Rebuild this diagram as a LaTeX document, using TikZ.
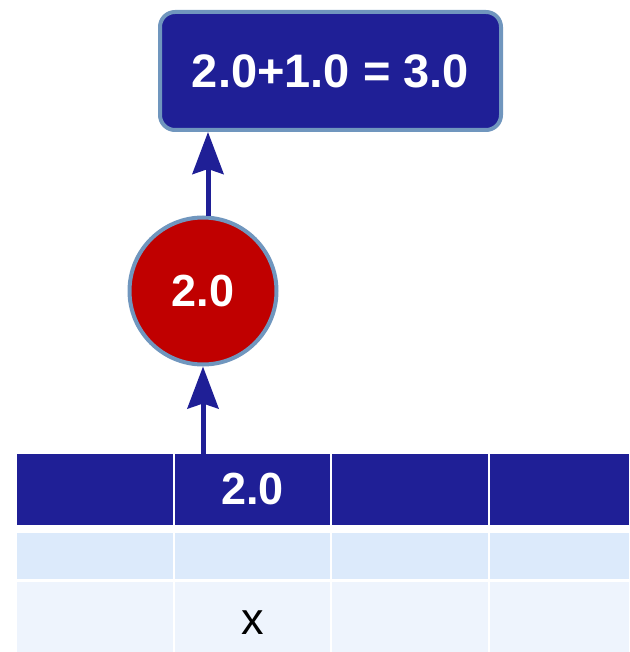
\documentclass[tikz,border=0pt]{standalone}
\usepackage{fontspec}
\setmainfont{Liberation Sans}
\usetikzlibrary{arrows.meta}
\definecolor{navy}{RGB}{31,31,150}
\definecolor{edgeblue}{RGB}{112,150,190}
\definecolor{redfill}{RGB}{192,0,0}
\definecolor{rowa}{RGB}{220,234,251}
\definecolor{rowb}{RGB}{238,244,253}
\tikzset{
  bigtxt/.style={font=\fontsize{47}{50}\selectfont\bfseries, text=white},
  resultbox/.style={draw=edgeblue, line width=4pt, fill=navy, rounded corners=15pt, minimum width=341pt, minimum height=118pt, inner sep=0pt, bigtxt},
  valcircle/.style={circle, draw=edgeblue, line width=4pt, fill=redfill, minimum size=147pt, inner sep=0pt, font=\fontsize{45}{48}\selectfont\bfseries, text=white},
  cell/.style={rectangle, inner sep=0pt, draw=none},
  hcell/.style={cell, fill=navy, minimum height=71pt, font=\fontsize{45}{48}\selectfont\bfseries, text=white},
  acell/.style={cell, fill=rowa, minimum height=46pt},
  bcell/.style={cell, fill=rowb, minimum height=70pt},
  celltxt/.style={font=\fontsize{45}{48}\selectfont, text=black, inner sep=0pt},
  arr/.style={draw=navy, line width=5pt, -{Stealth[length=42pt,width=31pt,inset=5pt]}},
}
\begin{document}
\begin{tikzpicture}[x=1pt,y=-1pt]
\useasboundingbox (0,0) rectangle (629,652);
% table
\node[hcell, minimum width=156pt] (h1) at (95,489.5) {};
\node[hcell, minimum width=155pt] (h2) at (252.5,489.5) {2.0};
\node[hcell, minimum width=156pt] (h3) at (410,489.5) {};
\node[hcell, minimum width=139pt] (h4) at (559.5,489.5) {};
\node[acell, minimum width=156pt] (a1) at (95,556) {};
\node[acell, minimum width=155pt] (a2) at (252.5,556) {};
\node[acell, minimum width=156pt] (a3) at (410,556) {};
\node[acell, minimum width=139pt] (a4) at (559.5,556) {};
\node[bcell, minimum width=156pt] (b1) at (95,617) {};
\node[bcell, minimum width=155pt] (b2) at (252.5,617) {};
\node[bcell, minimum width=156pt] (b3) at (410,617) {};
\node[bcell, minimum width=139pt] (b4) at (559.5,617) {};
\node[celltxt, anchor=base] (bx) at (252.5,634) {x};
% circle and box
\node[valcircle] (c) at (203,291) {2.0};
\node[resultbox] (r) at (330.5,71) {2.0+1.0 = 3.0};
% arrows
\draw[arr] (h2.north -| c.south) -- (c.south);
\draw[arr] ([xshift=5pt]c.north) -- ([xshift=5pt]c.north |- r.south);
\end{tikzpicture}
\end{document}
